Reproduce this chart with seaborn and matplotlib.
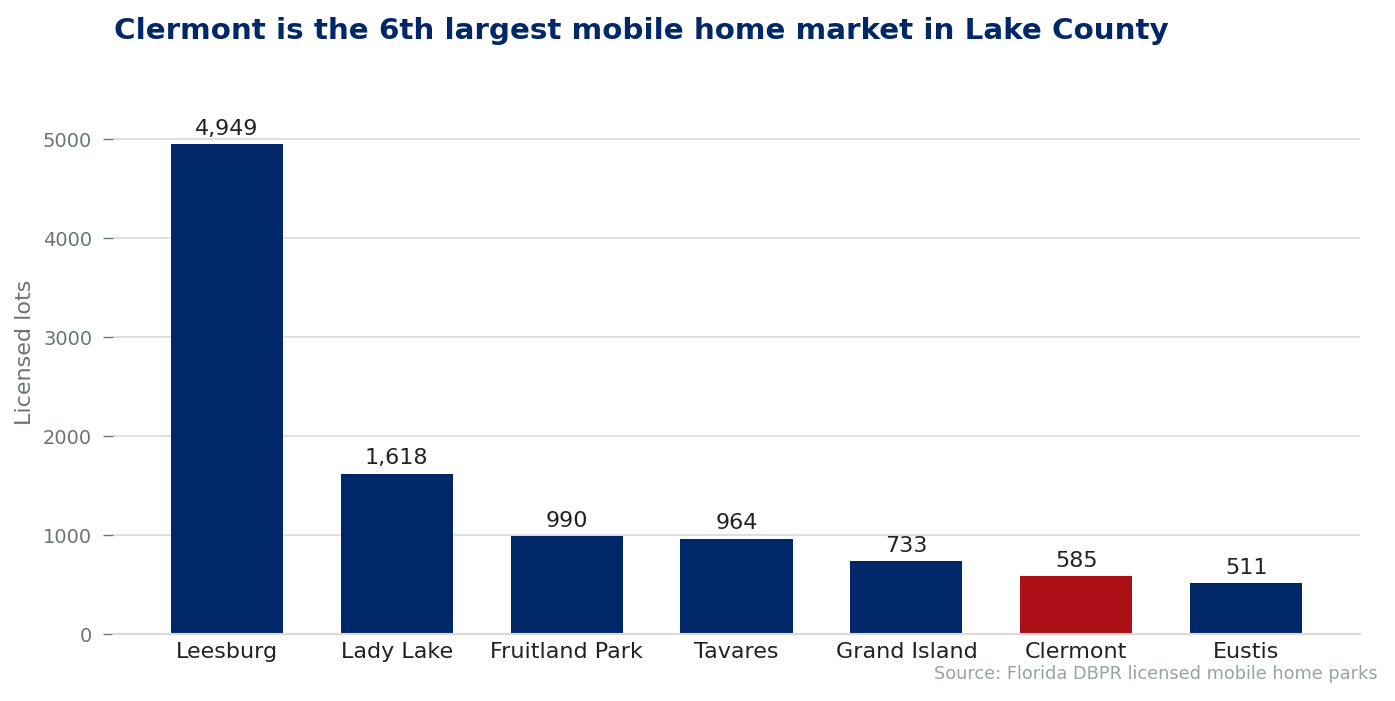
import matplotlib
matplotlib.use("Agg")
import matplotlib.pyplot as plt
import seaborn as sns
import pandas as pd

cities = ["Leesburg", "Lady Lake", "Fruitland Park", "Tavares", "Grand Island", "Clermont", "Eustis"]
lots = [4949, 1618, 990, 964, 733, 585, 511]
highlight = "Clermont"

NAVY = "#002868"
RED = "#AA1015"

sns.set_theme(style="white")
plt.rcParams["font.family"] = ["DejaVu Sans"]

df = pd.DataFrame({"city": cities, "lots": lots})
palette = {c: (RED if c == highlight else NAVY) for c in cities}

fig = plt.figure(figsize=(13.95, 7.01), dpi=100)
ax = fig.add_axes([113 / 1395, 1 - 634 / 701, (1360 - 113) / 1395, (634 - 90) / 701])

sns.barplot(data=df, x="city", y="lots", hue="city", palette=palette, dodge=False,
            width=0.66, legend=False, ax=ax, saturation=1, linewidth=0, edgecolor="none")

ax.set_xlim(-0.67, len(cities) - 0.33)
ax.set_ylim(0, 5500)
ax.set_yticks([0, 1000, 2000, 3000, 4000, 5000])
ax.yaxis.grid(True, color="#dddad5", linewidth=1.2)
ax.set_axisbelow(True)
for s in ["top", "right", "left"]:
    ax.spines[s].set_visible(False)
ax.spines["bottom"].set_color("#dddad5")
ax.spines["bottom"].set_linewidth(1.5)

ax.tick_params(axis="y", colors="#6b7572", labelsize=14, length=7, width=1, left=True, pad=8)
ax.tick_params(axis="x", colors="#222222", labelsize=16, length=0, pad=6)
ax.set_xlabel("")
ax.set_ylabel("Licensed lots", fontsize=16, color="#6b7572")
ax.yaxis.set_label_coords(-0.0625, 0.518)

for p, v in zip(ax.patches, lots):
    ax.annotate(f"{v:,}", (p.get_x() + p.get_width() / 2, p.get_height()),
                xytext=(0, 4), textcoords="offset points", ha="center", va="bottom",
                fontsize=16, color="#222222")

fig.text(114 / 1395, 1 - 31 / 701, "Clermont is the 6th largest mobile home market in Lake County",
         fontsize=21.2, fontweight="bold", color=NAVY, ha="left", va="center")
fig.text(1378 / 1395, 1 - 674 / 701, "Source: Florida DBPR licensed mobile home parks",
         fontsize=12.8, color="#9aa3a0", ha="right", va="center")

fig.savefig("out.png", dpi=100)
